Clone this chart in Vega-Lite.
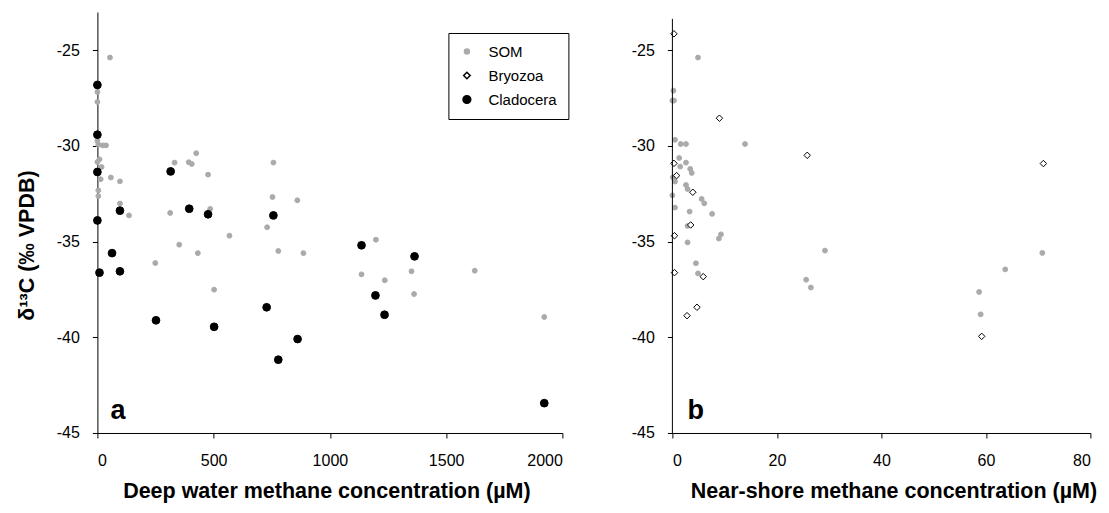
{
  "$schema": "https://vega.github.io/schema/vega-lite/v6.json",
  "background": "white",
  "padding": {"left": 15.4, "top": 12, "right": 0, "bottom": 0},
  "spacing": 61,
  "config": {
    "view": {"stroke": null},
    "font": "Liberation Sans",
    "axis": {
      "grid": false,
      "domainColor": "black",
      "domainWidth": 1,
      "tickColor": "black",
      "tickWidth": 1,
      "tickSize": 5,
      "labelColor": "black",
      "labelFont": "Liberation Sans",
      "labelFontSize": 16,
      "labelExpr": "datum.value + ''",
      "titleColor": "black",
      "titleFont": "Liberation Sans",
      "titleFontSize": 21.5,
      "titleFontWeight": "bold"
    }
  },
  "datasets": {
    "a": [
      {"conc": 54, "d13C": -25.38, "series": "SOM"},
      {"conc": 0, "d13C": -27.18, "series": "SOM"},
      {"conc": 0, "d13C": -27.7, "series": "SOM"},
      {"conc": 0, "d13C": -29.74, "series": "SOM"},
      {"conc": 4, "d13C": -29.93, "series": "SOM"},
      {"conc": 23, "d13C": -29.97, "series": "SOM"},
      {"conc": 37, "d13C": -29.97, "series": "SOM"},
      {"conc": 9, "d13C": -30.7, "series": "SOM"},
      {"conc": 0, "d13C": -30.84, "series": "SOM"},
      {"conc": 18, "d13C": -31.1, "series": "SOM"},
      {"conc": 14, "d13C": -31.74, "series": "SOM"},
      {"conc": 58, "d13C": -31.65, "series": "SOM"},
      {"conc": 97, "d13C": -31.85, "series": "SOM"},
      {"conc": 4, "d13C": -32.32, "series": "SOM"},
      {"conc": 4, "d13C": -32.62, "series": "SOM"},
      {"conc": 97, "d13C": -33.01, "series": "SOM"},
      {"conc": 136, "d13C": -33.63, "series": "SOM"},
      {"conc": 249, "d13C": -36.12, "series": "SOM"},
      {"conc": 313, "d13C": -33.5, "series": "SOM"},
      {"conc": 332, "d13C": -30.87, "series": "SOM"},
      {"conc": 352, "d13C": -35.16, "series": "SOM"},
      {"conc": 393, "d13C": -30.85, "series": "SOM"},
      {"conc": 406, "d13C": -30.94, "series": "SOM"},
      {"conc": 425, "d13C": -30.38, "series": "SOM"},
      {"conc": 432, "d13C": -35.6, "series": "SOM"},
      {"conc": 476, "d13C": -31.5, "series": "SOM"},
      {"conc": 485, "d13C": -33.29, "series": "SOM"},
      {"conc": 502, "d13C": -37.51, "series": "SOM"},
      {"conc": 568, "d13C": -34.69, "series": "SOM"},
      {"conc": 730, "d13C": -34.25, "series": "SOM"},
      {"conc": 753, "d13C": -32.67, "series": "SOM"},
      {"conc": 757, "d13C": -30.87, "series": "SOM"},
      {"conc": 778, "d13C": -35.49, "series": "SOM"},
      {"conc": 860, "d13C": -32.84, "series": "SOM"},
      {"conc": 886, "d13C": -35.6, "series": "SOM"},
      {"conc": 1136, "d13C": -36.71, "series": "SOM"},
      {"conc": 1198, "d13C": -34.9, "series": "SOM"},
      {"conc": 1236, "d13C": -37.02, "series": "SOM"},
      {"conc": 1351, "d13C": -36.55, "series": "SOM"},
      {"conc": 1362, "d13C": -37.74, "series": "SOM"},
      {"conc": 1623, "d13C": -36.52, "series": "SOM"},
      {"conc": 1922, "d13C": -38.94, "series": "SOM"},
      {"conc": 0, "d13C": -26.81, "series": "Cladocera"},
      {"conc": 0, "d13C": -29.41, "series": "Cladocera"},
      {"conc": 0, "d13C": -31.36, "series": "Cladocera"},
      {"conc": 0, "d13C": -33.89, "series": "Cladocera"},
      {"conc": 63, "d13C": -35.6, "series": "Cladocera"},
      {"conc": 9, "d13C": -36.62, "series": "Cladocera"},
      {"conc": 97, "d13C": -33.38, "series": "Cladocera"},
      {"conc": 97, "d13C": -36.55, "series": "Cladocera"},
      {"conc": 252, "d13C": -39.11, "series": "Cladocera"},
      {"conc": 315, "d13C": -31.33, "series": "Cladocera"},
      {"conc": 395, "d13C": -33.28, "series": "Cladocera"},
      {"conc": 476, "d13C": -33.57, "series": "Cladocera"},
      {"conc": 502, "d13C": -39.45, "series": "Cladocera"},
      {"conc": 728, "d13C": -38.43, "series": "Cladocera"},
      {"conc": 757, "d13C": -33.63, "series": "Cladocera"},
      {"conc": 778, "d13C": -41.17, "series": "Cladocera"},
      {"conc": 861, "d13C": -40.09, "series": "Cladocera"},
      {"conc": 1136, "d13C": -35.19, "series": "Cladocera"},
      {"conc": 1196, "d13C": -37.81, "series": "Cladocera"},
      {"conc": 1235, "d13C": -38.82, "series": "Cladocera"},
      {"conc": 1364, "d13C": -35.77, "series": "Cladocera"},
      {"conc": 1922, "d13C": -43.44, "series": "Cladocera"}
    ],
    "b": [
      {"conc": 4.9, "d13C": -25.38, "series": "SOM"},
      {"conc": 0.2, "d13C": -27.11, "series": "SOM"},
      {"conc": 0, "d13C": -27.63, "series": "SOM"},
      {"conc": 0.3, "d13C": -27.63, "series": "SOM"},
      {"conc": 0.5, "d13C": -29.68, "series": "SOM"},
      {"conc": 1.6, "d13C": -29.9, "series": "SOM"},
      {"conc": 2.6, "d13C": -29.9, "series": "SOM"},
      {"conc": 13.9, "d13C": -29.9, "series": "SOM"},
      {"conc": 1.3, "d13C": -30.63, "series": "SOM"},
      {"conc": 2.6, "d13C": -30.87, "series": "SOM"},
      {"conc": 1.5, "d13C": -31.08, "series": "SOM"},
      {"conc": 3.4, "d13C": -31.2, "series": "SOM"},
      {"conc": 3.7, "d13C": -31.41, "series": "SOM"},
      {"conc": 0.1, "d13C": -31.64, "series": "SOM"},
      {"conc": 0.5, "d13C": -31.86, "series": "SOM"},
      {"conc": 2.6, "d13C": -32.04, "series": "SOM"},
      {"conc": 2.9, "d13C": -32.25, "series": "SOM"},
      {"conc": 0, "d13C": -32.58, "series": "SOM"},
      {"conc": 5.6, "d13C": -32.77, "series": "SOM"},
      {"conc": 6.1, "d13C": -33.0, "series": "SOM"},
      {"conc": 0.5, "d13C": -33.22, "series": "SOM"},
      {"conc": 3.3, "d13C": -33.43, "series": "SOM"},
      {"conc": 7.6, "d13C": -33.55, "series": "SOM"},
      {"conc": 2.9, "d13C": -34.18, "series": "SOM"},
      {"conc": 9.3, "d13C": -34.62, "series": "SOM"},
      {"conc": 8.9, "d13C": -34.84, "series": "SOM"},
      {"conc": 2.9, "d13C": -35.04, "series": "SOM"},
      {"conc": 29.2, "d13C": -35.47, "series": "SOM"},
      {"conc": 70.8, "d13C": -35.59, "series": "SOM"},
      {"conc": 4.5, "d13C": -36.13, "series": "SOM"},
      {"conc": 4.9, "d13C": -36.66, "series": "SOM"},
      {"conc": 25.6, "d13C": -36.99, "series": "SOM"},
      {"conc": 26.5, "d13C": -37.4, "series": "SOM"},
      {"conc": 63.7, "d13C": -36.45, "series": "SOM"},
      {"conc": 58.7, "d13C": -37.63, "series": "SOM"},
      {"conc": 59.0, "d13C": -38.8, "series": "SOM"},
      {"conc": 0.3, "d13C": -24.14, "series": "Bryozoa"},
      {"conc": 9.0, "d13C": -28.55, "series": "Bryozoa"},
      {"conc": 25.8, "d13C": -30.49, "series": "Bryozoa"},
      {"conc": 0.3, "d13C": -30.91, "series": "Bryozoa"},
      {"conc": 0.8, "d13C": -31.55, "series": "Bryozoa"},
      {"conc": 3.9, "d13C": -32.42, "series": "Bryozoa"},
      {"conc": 3.5, "d13C": -34.13, "series": "Bryozoa"},
      {"conc": 0.4, "d13C": -34.69, "series": "Bryozoa"},
      {"conc": 71.0, "d13C": -30.92, "series": "Bryozoa"},
      {"conc": 0.4, "d13C": -36.62, "series": "Bryozoa"},
      {"conc": 5.9, "d13C": -36.83, "series": "Bryozoa"},
      {"conc": 4.7, "d13C": -38.43, "series": "Bryozoa"},
      {"conc": 2.8, "d13C": -38.87, "series": "Bryozoa"},
      {"conc": 59.2, "d13C": -39.95, "series": "Bryozoa"}
    ]
  },
  "hconcat": [
    {
      "width": 465,
      "height": 421,
      "layer": [
        {
          "data": {"name": "a"},
          "mark": {"type": "point", "filled": true, "strokeWidth": 1, "opacity": 1},
          "encoding": {
            "x": {
              "field": "conc", "type": "quantitative",
              "scale": {"domain": [0, 2000], "nice": false, "zero": false},
              "axis": {"values": [0, 500, 1000, 1500, 2000], "title": "Deep water methane concentration (µM)", "labelPadding": 14.5, "titlePadding": 12.5, "titleX": 229}
            },
            "y": {
              "field": "d13C", "type": "quantitative",
              "scale": {"domain": [-45, -23], "nice": false, "zero": false},
              "axis": {"values": [-45, -40, -35, -30, -25], "title": "δ¹³C (‰ VPDB)", "labelPadding": 13, "titlePadding": 18, "titleY": 233}
            },
            "fill": {
              "field": "series", "type": "nominal",
              "scale": {"domain": ["SOM", "Bryozoa", "Cladocera"], "range": ["#aaaaaa", "white", "black"]},
              "legend": {
                "title": null, "orient": "none", "legendX": 351, "legendY": 21,
                "strokeColor": "black", "padding": 11, "rowPadding": 8, "labelOffset": 14,
                "labelFont": "Liberation Sans", "labelFontSize": 15, "labelColor": "black",
                "labelExpr": "datum.label + '  '"
              }
            },
            "stroke": {
              "field": "series", "type": "nominal",
              "scale": {"domain": ["SOM", "Bryozoa", "Cladocera"], "range": ["#aaaaaa", "black", "black"]}
            },
            "shape": {
              "field": "series", "type": "nominal",
              "scale": {"domain": ["SOM", "Bryozoa", "Cladocera"], "range": ["circle", "diamond", "circle"]}
            },
            "size": {
              "field": "series", "type": "nominal",
              "scale": {"domain": ["SOM", "Bryozoa", "Cladocera"], "range": [24, 60, 27]}
            }
          }
        },
        {
          "data": {"values": [{}]},
          "mark": {"type": "text", "text": "a", "fontSize": 27, "fontWeight": "bold", "font": "Liberation Sans", "align": "left", "baseline": "alphabetic", "color": "black"},
          "encoding": {
            "x": {"datum": 56, "type": "quantitative"},
            "y": {"datum": -44.27, "type": "quantitative"}
          }
        }
      ]
    },
    {
      "width": 418,
      "height": 421,
      "layer": [
        {
          "data": {"name": "b"},
          "mark": {"type": "point", "filled": true, "strokeWidth": 1, "opacity": 1},
          "encoding": {
            "x": {
              "field": "conc", "type": "quantitative",
              "scale": {"domain": [0, 80], "nice": false, "zero": false},
              "axis": {"values": [0, 20, 40, 60, 80], "title": "Near-shore methane concentration (µM)", "labelPadding": 14.5, "titlePadding": 12.5, "titleX": 221}
            },
            "y": {
              "field": "d13C", "type": "quantitative",
              "scale": {"domain": [-45, -23], "nice": false, "zero": false},
              "axis": {"values": [-45, -40, -35, -30, -25], "title": null, "labelPadding": 13, "domain": false}
            },
            "fill": {
              "field": "series", "type": "nominal",
              "scale": {"domain": ["SOM", "Bryozoa", "Cladocera"], "range": ["#aaaaaa", "white", "black"]},
              "legend": null
            },
            "stroke": {
              "field": "series", "type": "nominal",
              "scale": {"domain": ["SOM", "Bryozoa", "Cladocera"], "range": ["#aaaaaa", "black", "black"]},
              "legend": null
            },
            "shape": {
              "field": "series", "type": "nominal",
              "scale": {"domain": ["SOM", "Bryozoa", "Cladocera"], "range": ["circle", "diamond", "circle"]},
              "legend": null
            },
            "size": {
              "field": "series", "type": "nominal",
              "scale": {"domain": ["SOM", "Bryozoa", "Cladocera"], "range": [24, 60, 27]},
              "legend": null
            }
          }
        },
        {
          "data": {"values": [{}]},
          "mark": {"type": "rule", "color": "black", "strokeWidth": 1},
          "encoding": {
            "x": {"datum": 0, "type": "quantitative"},
            "y": {"datum": -45, "type": "quantitative"},
            "y2": {"datum": -23.36}
          }
        },
        {
          "data": {"values": [{}]},
          "mark": {"type": "text", "text": "b", "fontSize": 27, "fontWeight": "bold", "font": "Liberation Sans", "align": "left", "baseline": "alphabetic", "color": "black"},
          "encoding": {
            "x": {"datum": 2.9, "type": "quantitative"},
            "y": {"datum": -44.27, "type": "quantitative"}
          }
        }
      ]
    }
  ],
  "resolve": {
    "scale": {"x": "independent", "y": "independent", "fill": "independent", "stroke": "independent", "shape": "independent", "size": "independent"},
    "legend": {"fill": "independent", "stroke": "independent", "shape": "independent", "size": "independent"}
  }
}
